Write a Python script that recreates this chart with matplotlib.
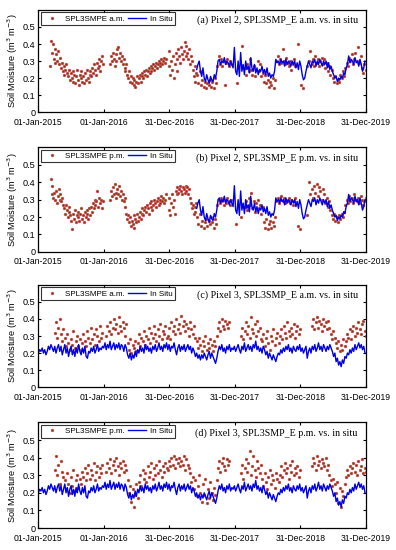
import numpy as np
import matplotlib
matplotlib.use("Agg")
from matplotlib import pyplot as plt
from matplotlib.lines import Line2D

# x axis: days since 01-Jan-2015
tick_days = [0, 365, 730, 1095, 1460, 1825]
tick_labels = ["01-Jan-2015", "01-Jan-2016", "31-Dec-2016",
               "31-Dec-2017", "31-Dec-2018", "31-Dec-2019"]
y_ticks = [0, 0.1, 0.2, 0.3, 0.4, 0.5]

nan = np.nan

# ---------------- Pixel 2 in situ (weekly, starts day 882) ----------------
insitu_p2_start = 882
insitu_p2 = [
    0.25, 0.28, 0.30, 0.24, 0.21, 0.26, 0.20, 0.18, 0.22, 0.19, 0.17, 0.21, 0.19,
    0.18, 0.22, 0.20, 0.24, 0.30, 0.31, 0.28, 0.30, 0.29, 0.32, 0.28, 0.30, 0.29,
    0.27, 0.30, 0.28, 0.26, 0.38, 0.24, 0.22, 0.30, 0.21, 0.35, 0.24, 0.28, 0.22,
    0.30, 0.25, 0.27, 0.23, 0.32, 0.26, 0.24, 0.28, 0.23, 0.26, 0.22, 0.25, 0.24,
    0.27, 0.23, 0.25, 0.22, 0.26, 0.21, 0.23, 0.20, 0.22, 0.21, 0.24, 0.31, 0.29,
    0.30, 0.28, 0.31, 0.29, 0.30, 0.27, 0.31, 0.28, 0.30, 0.29, 0.27, 0.30, 0.28,
    0.30, 0.26, 0.29, 0.25, 0.30, 0.27, 0.22, 0.19, 0.20, 0.24, 0.27, 0.30, 0.28,
    0.26, 0.30, 0.29, 0.31, 0.27, 0.30, 0.28, 0.31, 0.29, 0.27, 0.30, 0.28, 0.30,
    0.26, 0.29, 0.25, 0.27, 0.24, 0.22, 0.20, 0.21, 0.18, 0.20, 0.19, 0.21, 0.20,
    0.23, 0.22, 0.26, 0.28, 0.33, 0.29, 0.31, 0.30, 0.28, 0.32, 0.29, 0.30, 0.27,
    0.31, 0.28, 0.24, 0.26, 0.30,
]

# ---------------- Pixel 3 in situ (weekly, starts day 0) ----------------
insitu_p3_start = 0
insitu_p3 = [
    0.20, 0.22, 0.21, 0.23, 0.20, 0.22, 0.19, 0.21, 0.24, 0.22, 0.25, 0.23, 0.21,
    0.24, 0.20, 0.23, 0.25, 0.21, 0.24, 0.19, 0.22, 0.25, 0.20, 0.23, 0.18, 0.22,
    0.24, 0.19, 0.22, 0.18, 0.23, 0.20, 0.25, 0.21, 0.19, 0.23, 0.20, 0.24, 0.18,
    0.17, 0.21, 0.20, 0.23, 0.21, 0.24, 0.20, 0.22, 0.25, 0.21, 0.23, 0.22, 0.24,
    0.23, 0.26, 0.22, 0.25, 0.23, 0.27, 0.22, 0.24, 0.26, 0.22, 0.25, 0.23, 0.26,
    0.22, 0.25, 0.24, 0.21, 0.25, 0.23, 0.19, 0.17, 0.20, 0.16, 0.19, 0.17, 0.21,
    0.18, 0.22, 0.20, 0.24, 0.21, 0.23, 0.20, 0.25, 0.22, 0.24, 0.21, 0.23, 0.20,
    0.24, 0.22, 0.25, 0.21, 0.23, 0.26, 0.22, 0.24, 0.21, 0.25, 0.23, 0.26, 0.22,
    0.25, 0.21, 0.24, 0.23, 0.26, 0.22, 0.19, 0.23, 0.25, 0.21, 0.24, 0.22, 0.25,
    0.21, 0.23, 0.25, 0.22, 0.24, 0.20, 0.23, 0.21, 0.18, 0.20, 0.17, 0.19, 0.16,
    0.19, 0.17, 0.20, 0.18, 0.16, 0.19, 0.21, 0.17, 0.20, 0.18, 0.16, 0.14, 0.17,
    0.21, 0.24, 0.22, 0.25, 0.21, 0.23, 0.20, 0.24, 0.22, 0.25, 0.21, 0.23, 0.22,
    0.24, 0.21, 0.23, 0.25, 0.22, 0.20, 0.24, 0.22, 0.26, 0.21, 0.23, 0.25, 0.22,
    0.24, 0.21, 0.25, 0.23, 0.27, 0.22, 0.24, 0.21, 0.23, 0.20, 0.24, 0.22, 0.19,
    0.21, 0.17, 0.20, 0.18, 0.16, 0.19, 0.17, 0.15, 0.18, 0.20, 0.19, 0.22, 0.20,
    0.23, 0.21, 0.24, 0.22, 0.25, 0.21, 0.23, 0.20, 0.24, 0.22, 0.21, 0.24, 0.22,
    0.25, 0.21, 0.23, 0.20, 0.22, 0.24, 0.17, 0.21, 0.23, 0.20, 0.24, 0.22, 0.25,
    0.21, 0.23, 0.26, 0.22, 0.24, 0.21, 0.25, 0.23, 0.21, 0.24, 0.22, 0.25, 0.23,
    0.21, 0.18, 0.20, 0.15, 0.17, 0.13, 0.15, 0.12, 0.16, 0.14, 0.18, 0.17, 0.20,
    0.19, 0.22, 0.20, 0.23, 0.21, 0.25, 0.22, 0.24, 0.26, 0.23, 0.25, 0.22, 0.24,
    0.20,
]

# ---------------- (a) Pixel 2, SMAP a.m. ----------------
# (start day, step in days, values)
a_2015 = (65, 5, [
    0.27, 0.42, 0.35, 0.40, 0.31, 0.37, 0.29, 0.34, 0.30, 0.36, 0.28, 0.32,
    0.26, 0.29, 0.24, 0.27, 0.22, 0.25, 0.28, 0.23, 0.21, 0.25, 0.19, 0.23,
    0.20, 0.24, 0.18, 0.22, 0.17, 0.21, 0.25, 0.19, 0.16, 0.22, 0.20, 0.24,
    0.18, 0.21, 0.17, 0.23, 0.19, 0.25, 0.20, 0.18, 0.22,
    0.24, 0.21, 0.26, 0.23, 0.28, 0.25, 0.22, 0.29, 0.26, 0.31, 0.27, 0.24,
    0.30, 0.33, 0.28])
a_2016 = (400, 5, [
    0.28, 0.33, 0.30, 0.35, 0.31, 0.27, 0.34, 0.30, 0.37, 0.38, 0.32, 0.35,
    0.30, 0.33, 0.28, 0.31, 0.26, 0.24, 0.28, 0.22, 0.20, 0.24, 0.18, 0.21,
    0.17, 0.20, 0.16, 0.19, 0.15, 0.18, 0.21, 0.17, 0.20, 0.22, 0.18, 0.21,
    0.23, 0.20, 0.24, 0.22, 0.25, 0.21, 0.24, 0.26, 0.23, 0.27, 0.24, 0.26,
    0.28, 0.25, 0.27, 0.29, 0.26, 0.28, 0.30, 0.27, 0.29, 0.31, 0.28, 0.30,
    0.32, 0.29, 0.31])
a_2017 = (725, 5, [
    0.27, 0.36, 0.22, 0.30, 0.25, 0.33, 0.20, 0.28, 0.35, 0.31, 0.24, 0.37,
    0.33, 0.29, 0.38, 0.34, 0.31, 0.36, 0.41, 0.33, 0.39, 0.35, 0.31, 0.37,
    0.28, 0.33, 0.30, 0.25, 0.21, 0.27, 0.18, 0.23])
a_2017_19 = (885, 7, [
    0.22, 0.17, 0.24, 0.16, 0.19, 0.15, 0.18, 0.14, 0.17, 0.16, 0.19, 0.15,
    0.18, 0.14, 0.20, 0.17, 0.27, 0.33, 0.28, 0.31, 0.27, 0.30, 0.16, 0.29,
    0.31, 0.27, 0.30, 0.28, nan, nan, nan, nan, 0.17, nan, nan, nan,
    0.39, nan, 0.26, 0.22, 0.28, 0.24, 0.31, 0.25, 0.22, 0.27, 0.21, 0.25,
    0.30, 0.24, 0.28, 0.21, 0.23, 0.18, 0.22, 0.17, 0.19, 0.15, 0.18, 0.16,
    0.20, 0.14, 0.19, 0.30, 0.33, 0.28, 0.31, 0.29, 0.37, 0.30, 0.28, 0.32,
    0.29, 0.27, 0.30, 0.25, 0.28, 0.31, 0.27, nan, 0.40, nan, nan, 0.16,
    0.14, nan, nan, 0.27, nan, 0.30, 0.36, 0.28, 0.31, 0.27, 0.33, 0.29,
    0.31, 0.27, 0.30, 0.32, 0.28, 0.31, 0.26, 0.29, 0.24, 0.27, 0.22, 0.25,
    0.20, 0.18, 0.21, 0.17, 0.19, 0.18, 0.22, 0.20, 0.24, 0.21, 0.26, 0.29,
    0.27, 0.32, 0.30, 0.34, 0.28, 0.31, 0.35, 0.30, 0.38, 0.29, 0.33, 0.26,
    0.23, 0.28, 0.25])

# ---------------- (b) Pixel 2, SMAP p.m. ----------------
b_2015 = (68, 5, [
    0.42, 0.33, 0.38, 0.31, 0.34, 0.30, 0.35, 0.28, 0.32, 0.36, 0.30, 0.33,
    0.29, 0.31, 0.27, 0.25, 0.22, 0.27, 0.24, 0.20, 0.23, 0.26,
    0.21, 0.18, 0.13, 0.22, 0.19, 0.24, 0.17, 0.21, 0.20, 0.23, 0.18, 0.22,
    0.25, 0.19, 0.21, 0.17, 0.23, 0.20, 0.24, 0.22, 0.19, 0.25, 0.21,
    0.26, 0.23, 0.28, 0.25, 0.30, 0.27, 0.29, 0.35, 0.26, 0.31, 0.28, 0.30,
    0.25, 0.29])
b_2016 = (400, 5, [
    0.30, 0.35, 0.32, 0.37, 0.33, 0.39, 0.34, 0.31, 0.36, 0.33, 0.38, 0.32,
    0.35, 0.30, 0.33, 0.29, 0.31, 0.26, 0.22, 0.19, 0.21, 0.17, 0.20, 0.15,
    0.18, 0.16, 0.21, 0.14, 0.19, 0.17, 0.22, 0.18, 0.20, 0.23, 0.19, 0.22,
    0.25, 0.21, 0.24, 0.26, 0.23, 0.27, 0.25, 0.22, 0.28, 0.26, 0.29, 0.24,
    0.27, 0.30, 0.28, 0.26, 0.29, 0.31, 0.27, 0.30, 0.28, 0.32, 0.29, 0.31,
    0.28, 0.30, 0.33])
b_2017 = (725, 5, [
    0.24, 0.31, 0.21, 0.28, 0.33, 0.26, 0.30, 0.22, 0.35, 0.33, 0.37, 0.34,
    0.36, 0.38, 0.35, 0.33, 0.37, 0.36, 0.34, 0.38, 0.35, 0.37, 0.33, 0.36,
    0.31, 0.28, 0.25, 0.27, 0.22, 0.26, 0.23, 0.28])
b_2017_19 = (885, 7, [
    0.20, 0.16, 0.22, 0.15, 0.18, 0.14, 0.17, 0.19, 0.15, 0.18, 0.16, 0.20,
    0.17, 0.14, 0.19, 0.16,
    0.27, 0.30, 0.28, 0.31, 0.29, 0.27, 0.30, 0.28, 0.31, 0.29, 0.27, 0.30,
    nan, nan, nan, 0.16, nan, nan, nan, 0.20, nan, nan,
    0.26, 0.29, 0.24, 0.31, 0.27, 0.34, 0.25, 0.29, 0.23, 0.28, 0.30, 0.25,
    0.27, 0.22, 0.26,
    0.17, 0.14, 0.19, 0.13, 0.16, 0.18, 0.14, 0.17, 0.15, 0.20,
    0.29, 0.31, 0.28, 0.30, 0.32, 0.29, 0.31, 0.28, 0.30, 0.29, 0.31, 0.28,
    0.30, 0.27, 0.29, 0.31,
    nan, 0.15, nan, 0.13, nan, nan, nan, nan, 0.21, nan, 0.40, 0.33,
    0.36, 0.31, 0.38, 0.34, 0.39, 0.32, 0.37, 0.35, 0.30, 0.36, 0.33, 0.28,
    0.31, 0.26, 0.29,
    0.24, 0.21, 0.19, 0.22, 0.18, 0.20, 0.17, 0.21, 0.19, 0.22, 0.20, 0.23,
    0.27, 0.30, 0.28, 0.32, 0.29, 0.31, 0.28, 0.33, 0.30, 0.29, 0.31, 0.28,
    0.32, 0.30, 0.27, 0.29, 0.31])

# ---------------- (c) Pixel 3, SMAP a.m. ----------------
c_2015 = (90, 7, [
    0.32, 0.38, 0.29, 0.35, 0.40, 0.31, 0.27, 0.34,
    0.29, 0.24, 0.31, 0.26, 0.22, 0.28, 0.25, 0.33, 0.23, 0.27, 0.30, 0.24,
    0.28, 0.22, 0.26,
    0.31, 0.27, 0.24, 0.33, 0.29, 0.26, 0.35, 0.28, 0.31, 0.25, 0.34, 0.30,
    0.27, 0.36, 0.29, 0.32])
c_2016 = (378, 7, [
    0.30, 0.36, 0.33, 0.38, 0.31, 0.35, 0.40, 0.34, 0.37, 0.32, 0.41, 0.36,
    0.33, 0.38, 0.35, 0.30, 0.37,
    0.26, 0.22, 0.28, 0.20, 0.25, 0.23, 0.27, 0.21,
    0.26, 0.31, 0.24, 0.29, 0.27, 0.33, 0.25, 0.30, 0.28, 0.35, 0.26, 0.32,
    0.29, 0.36, 0.31, 0.27, 0.34, 0.30, 0.37, 0.28, 0.33, 0.31, 0.36, 0.29])
c_2017 = (720, 7, [
    0.30, 0.35, 0.28, 0.38, 0.33, 0.36, 0.31, 0.40, 0.34, 0.37, 0.32, 0.42,
    0.36, 0.39, 0.33, 0.37, 0.35, 0.30, 0.38, 0.34, 0.31, 0.36, 0.29,
    0.27, 0.23, 0.29, 0.25, 0.21, 0.27, 0.24, 0.30, 0.22, 0.26, 0.23, 0.28,
    0.25, 0.21, 0.27, 0.24, 0.30,
    0.35, 0.38, 0.33, 0.40, 0.36, 0.34, 0.39, 0.37, 0.35, 0.38])
c_2018 = (1128, 7, [
    0.30, 0.35, 0.28, 0.33, 0.38, 0.31, 0.36, 0.29, 0.41, 0.34, 0.32, 0.37,
    0.30, 0.39, 0.33, 0.35, 0.28,
    0.27, 0.31, 0.24, 0.29, 0.33, 0.26, 0.22, 0.30, 0.27, 0.34, 0.25, 0.29,
    0.32, 0.26,
    0.30, 0.34, 0.28, 0.36, 0.32, 0.29, 0.38, 0.33, 0.30, 0.35, 0.31, 0.37,
    0.29, 0.33, 0.36, 0.31, 0.34])
c_2019 = (1524, 7, [
    0.36, 0.40, 0.34, 0.38, 0.41, 0.35, 0.39, 0.37, 0.33, 0.40, 0.36, 0.38,
    0.34, 0.39, 0.35,
    0.31, 0.28, 0.33, 0.29, 0.26,
    0.23, 0.27, 0.21, 0.25, 0.22, 0.28, 0.24,
    0.27, 0.31, 0.29, 0.34, 0.28, 0.33, 0.36, 0.30, 0.35, 0.32, 0.38, 0.34,
    0.31, 0.37, 0.39, 0.33, 0.30])

# ---------------- (d) Pixel 3, SMAP p.m. ----------------
d_2015 = (90, 7, [
    0.33, 0.41, 0.30, 0.36, 0.25, 0.38, 0.32, 0.29,
    0.27, 0.22, 0.31, 0.25, 0.20, 0.29, 0.24, 0.33, 0.21, 0.27, 0.30, 0.23,
    0.28, 0.25, 0.32,
    0.29, 0.34, 0.27, 0.31, 0.36, 0.28, 0.33, 0.30, 0.37, 0.27, 0.32, 0.35,
    0.29, 0.34, 0.31, 0.36])
d_2016 = (378, 7, [
    0.32, 0.37, 0.34, 0.39, 0.31, 0.36, 0.38, 0.33, 0.40, 0.35, 0.30, 0.37,
    0.34, 0.38, 0.32, 0.36, 0.33,
    0.27, 0.20, 0.24, 0.15, 0.22, 0.12, 0.19, 0.25, 0.17,
    0.26, 0.30, 0.24, 0.33, 0.28, 0.31, 0.26, 0.35, 0.29, 0.32, 0.37, 0.28,
    0.34, 0.30, 0.36, 0.31, 0.38, 0.33, 0.29, 0.35, 0.32, 0.37, 0.34])
d_2017 = (720, 7, [
    0.33, 0.38, 0.35, 0.40, 0.36, 0.41, 0.34, 0.39, 0.37, 0.40, 0.35, 0.38,
    0.36, 0.41, 0.33, 0.39, 0.36, 0.34,
    0.31, 0.26, 0.29, 0.22, 0.27, 0.18, 0.24, 0.30, 0.20, 0.15, 0.25, 0.19,
    0.28, 0.14, 0.22, 0.17, 0.26, 0.20, 0.16, 0.23, 0.19, 0.27,
    0.34, 0.38, 0.32, 0.37, 0.40, 0.35, 0.33, 0.39, 0.36, 0.38])
d_2018 = (1128, 7, [
    0.31, 0.36, 0.28, 0.34, 0.39, 0.32, 0.37, 0.44, 0.30, 0.35, 0.41, 0.33,
    0.29, 0.38, 0.34, 0.31, 0.36,
    0.28, 0.24, 0.31, 0.26, 0.22, 0.29, 0.33, 0.25, 0.30, 0.27, 0.23, 0.31,
    0.28, 0.26,
    0.30, 0.35, 0.29, 0.33, 0.37, 0.31, 0.34, 0.28, 0.36, 0.32, 0.38, 0.30,
    0.34, 0.31, 0.35, 0.29, 0.33])
d_2019 = (1524, 7, [
    0.35, 0.40, 0.37, 0.33, 0.41, 0.36, 0.38, 0.34, 0.39, 0.37, 0.35, 0.40,
    0.33, 0.36,
    0.30, 0.27, 0.24, 0.28, 0.25,
    0.20, 0.26, 0.14, 0.23, 0.12, 0.21, 0.18, 0.25,
    0.29, 0.33, 0.30, 0.35, 0.31, 0.34, 0.37, 0.32, 0.36, 0.30, 0.38, 0.33,
    0.35, 0.39, 0.31, 0.34, 0.32])

panels = [
    ("(a) Pixel 2, SPL3SMP_E a.m. vs. in situ", "SPL3SMPE a.m.",
     [a_2015, a_2016, a_2017, a_2017_19], (insitu_p2_start, insitu_p2)),
    ("(b) Pixel 2, SPL3SMP_E p.m. vs. in situ", "SPL3SMPE p.m.",
     [b_2015, b_2016, b_2017, b_2017_19], (insitu_p2_start, insitu_p2)),
    ("(c) Pixel 3, SPL3SMP_E a.m. vs. in situ", "SPL3SMPE a.m.",
     [c_2015, c_2016, c_2017, c_2018, c_2019], (insitu_p3_start, insitu_p3)),
    ("(d) Pixel 3, SPL3SMP_E p.m. vs. in situ", "SPL3SMPE p.m.",
     [d_2015, d_2016, d_2017, d_2018, d_2019], (insitu_p3_start, insitu_p3)),
]

# axes boxes in figure fraction (left, bottom, width, height)
boxes = [
    (0.097, 0.796, 0.827, 0.186),
    (0.097, 0.542, 0.827, 0.190),
    (0.097, 0.296, 0.827, 0.186),
    (0.097, 0.040, 0.827, 0.192),
]

dot_face = "#8c3310"
dot_edge = "#d8505a"
line_color = "#0000e6"


def seg_days(seg):
    start, step, vals = seg
    return start + step * np.arange(len(vals)), np.array(vals, dtype=float)


fig = plt.figure(figsize=(3.96, 5.5), dpi=100)

for (title, sm_name, segs, insitu), box in zip(panels, boxes):
    ax = fig.add_axes(box)

    for seg in segs:
        xs, ys = seg_days(seg)
        ax.plot(xs, ys, "o", mfc=dot_face, mec=dot_edge, mew=0.35,
                markersize=2.0)

    start, vals = insitu
    xs_in = start + 7 * np.arange(len(vals))
    ax.plot(xs_in, vals, "-", color=line_color, lw=1.0)

    ax.set_xlim(0, 1825)
    ax.set_ylim(0, 0.6)
    ax.set_xticks(tick_days)
    ax.set_xticklabels(tick_labels, fontsize=6.2, family="Liberation Sans")
    ax.set_yticks(y_ticks)
    ax.set_yticklabels([f"{v:g}" for v in y_ticks], fontsize=6.6,
                       family="Liberation Sans")
    ax.tick_params(direction="in", length=2.5, width=0.8,
                   top=True, right=True)
    ax.tick_params(axis="x", pad=4)
    ax.tick_params(axis="y", pad=2)
    ax.set_ylabel("Soil Moisture (m$^3$ m$^{-3}$)", fontsize=6.6,
                  family="Liberation Sans", labelpad=2)
    for sp in ax.spines.values():
        sp.set_linewidth(0.9)

    ax.text(0.975, 0.9, title, transform=ax.transAxes, ha="right", va="center",
            fontsize=7.2, family="Liberation Serif")

    handles = [
        Line2D([], [], marker="o", ls="none", mfc=dot_face, mec=dot_edge,
               mew=0.35, markersize=2.0),
        Line2D([], [], color=line_color, lw=1.0),
    ]
    leg = ax.legend(handles, [sm_name, "In Situ"], loc="upper left",
                    bbox_to_anchor=(0.008, 0.975), ncol=2,
                    frameon=True, fancybox=False, edgecolor="black",
                    handlelength=2.2, handletextpad=0.5, columnspacing=0.4,
                    borderpad=0.3, borderaxespad=0.0,
                    prop={"family": "Liberation Sans", "size": 5.8})
    leg.get_frame().set_linewidth(0.8)

fig.savefig("out.png", dpi=100)
